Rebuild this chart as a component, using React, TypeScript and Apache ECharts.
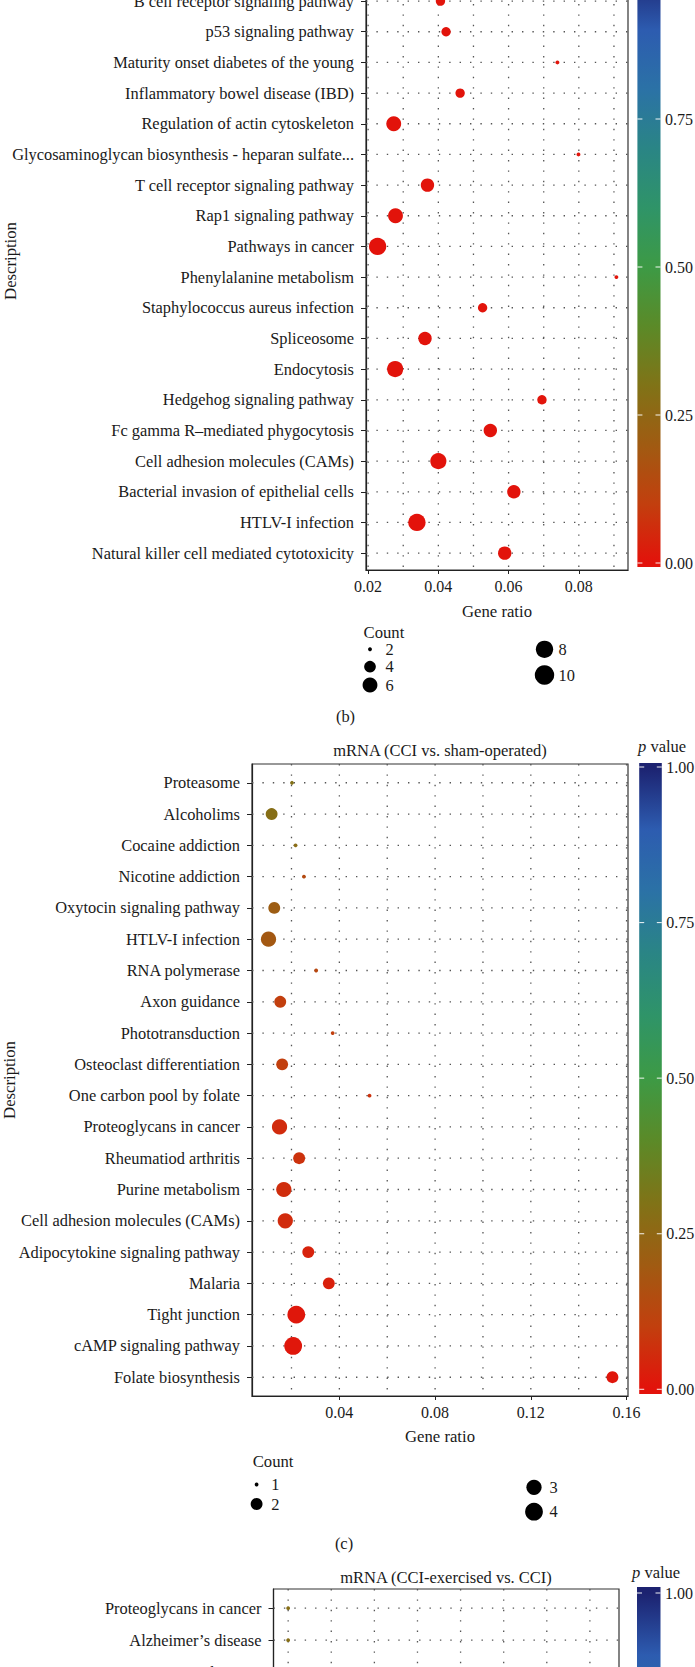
import React, { useEffect, useRef } from "react";
import * as echarts from "echarts";

const OFF = 60;
const EXTRA = 700;
const FONT = '"Liberation Serif", "DejaVu Serif", serif';

// ---------- Panel (b) ----------
const B_PATHWAYS = [
  "B cell receptor signaling pathway",
  "p53 signaling pathway",
  "Maturity onset diabetes of the young",
  "Inflammatory bowel disease (IBD)",
  "Regulation of actin cytoskeleton",
  "Glycosaminoglycan biosynthesis - heparan sulfate...",
  "T cell receptor signaling pathway",
  "Rap1 signaling pathway",
  "Pathways in cancer",
  "Phenylalanine metabolism",
  "Staphylococcus aureus infection",
  "Spliceosome",
  "Endocytosis",
  "Hedgehog signaling pathway",
  "Fc gamma R–mediated phygocytosis",
  "Cell adhesion molecules (CAMs)",
  "Bacterial invasion of epithelial cells",
  "HTLV-I infection",
  "Natural killer cell mediated cytotoxicity",
];
const B_RATIO = [
  0.0406, 0.0422, 0.0739, 0.0462, 0.0273, 0.0799, 0.0369, 0.0278, 0.0227, 0.0907,
  0.0526, 0.0362, 0.0277, 0.0695, 0.0548, 0.04, 0.0615, 0.0339, 0.0589,
];
const B_COUNT = [3, 3, 2, 3, 6, 2, 5, 6, 8, 2, 3, 5, 7, 3, 5, 7, 5, 8, 5];
const B_PVALUE = [
  0.004, 0.003, 0.006, 0.004, 0.002, 0.005, 0.003, 0.002, 0.001, 0.006,
  0.004, 0.003, 0.002, 0.004, 0.003, 0.002, 0.003, 0.001, 0.003,
];
const B_XTICKS = [0.02, 0.04, 0.06, 0.08];
const B_XGRID = [0.02, 0.03, 0.04, 0.05, 0.06, 0.07, 0.08, 0.09];
const B_LEGEND_COUNTS = [2, 4, 6, 8, 10];

// ---------- Panel (c) ----------
const C_TITLE = "mRNA (CCI vs. sham-operated)";
const C_PATHWAYS = [
  "Proteasome",
  "Alcoholims",
  "Cocaine addiction",
  "Nicotine addiction",
  "Oxytocin signaling pathway",
  "HTLV-I infection",
  "RNA polymerase",
  "Axon guidance",
  "Phototransduction",
  "Osteoclast differentiation",
  "One carbon pool by folate",
  "Proteoglycans in cancer",
  "Rheumatiod arthritis",
  "Purine metabolism",
  "Cell adhesion molecules (CAMs)",
  "Adipocytokine signaling pathway",
  "Malaria",
  "Tight junction",
  "cAMP signaling pathway",
  "Folate biosynthesis",
];
const C_RATIO = [
  0.0202, 0.0117, 0.0217, 0.0252, 0.0128, 0.0104, 0.0303, 0.0153, 0.0372, 0.0161,
  0.0526, 0.015, 0.0232, 0.0168, 0.0174, 0.027, 0.0356, 0.022, 0.0207, 0.1541,
];
const C_COUNT = [1, 2, 1, 1, 2, 3, 1, 2, 1, 2, 1, 3, 2, 3, 3, 2, 2, 4, 4, 2];
const C_PVALUE = [
  0.29, 0.28, 0.27, 0.14, 0.21, 0.19, 0.13, 0.1, 0.1, 0.1,
  0.07, 0.055, 0.07, 0.06, 0.055, 0.035, 0.03, 0.012, 0.01, 0.008,
];
const C_XTICKS = [0.04, 0.08, 0.12, 0.16];
const C_XGRID = [0.02, 0.04, 0.06, 0.08, 0.1, 0.12, 0.14, 0.16];
const C_LEGEND_COUNTS = [1, 2, 3, 4];

// ---------- Panel (d) ----------
const D_TITLE = "mRNA (CCI-exercised vs. CCI)";
const D_PATHWAYS = ["Proteoglycans in cancer", "Alzheimer’s disease", "Ribosome"];
const D_RATIO = [0.02, 0.02];
const D_COUNT = [1, 1];
const D_PVALUE = [0.28, 0.28];
const D_XGRID = [0.02, 0.04, 0.06, 0.08, 0.1, 0.12, 0.14, 0.16];

// ---------- colour scale ----------
const PALETTE = [
  "#e3120b", "#c23f0e", "#a05b12", "#807317", "#5b8a28", "#3d9a45",
  "#2f9468", "#2a8585", "#2b72a6", "#2d5cb0", "#1c2270",
];
const CB_TICKS = [0, 0.25, 0.5, 0.75, 1];

const sizeB = (c: number) => 0.8 + 3.1 * (1 + 5 * Math.sqrt((c - 2) / 8));
const sizeC = (c: number) => 1 + 2.8 * (1 + 5 * Math.sqrt((c - 1) / 3));

const TXT = "#1a1a1a";

function buildOption() {
  const grids = [
    { left: 366, top: -48 + OFF, width: 262, height: 618 },
    { left: 252, top: 764 + OFF, width: 376, height: 632 },
    { left: 273.5, top: 1589 + OFF, width: 345.5, height: 646 },
  ].map((g) => ({ ...g, show: true, borderColor: "#333", borderWidth: 1.2, backgroundColor: "transparent" }));

  const xAxis = (gi: number, min: number, max: number, ticks: number[], show: boolean) => ({
    type: "value",
    gridIndex: gi,
    min,
    max,
    axisLine: { show: true, onZero: false, lineStyle: { color: "#222", width: 1.2 } },
    axisTick: { show, customValues: ticks, length: 4, lineStyle: { color: "#222" } },
    axisLabel: {
      show,
      customValues: ticks,
      formatter: (v: number) => v.toFixed(2),
      margin: 8,
      fontSize: 16,
      fontFamily: FONT,
      color: TXT,
    },
    splitLine: { show: false },
  });
  const yAxis = (gi: number, min: number, max: number, cats: string[]) => {
    const idx = cats.map((_, i) => i);
    return {
      type: "value",
      gridIndex: gi,
      inverse: true,
      min,
      max,
      axisLine: { show: true, onZero: false, lineStyle: { color: "#222", width: 1.2 } },
      axisTick: { show: true, customValues: idx, length: 5, lineStyle: { color: "#222" } },
      axisLabel: {
        show: true,
        customValues: idx,
        formatter: (v: number) => cats[Math.round(v)] ?? "",
        margin: 12,
        fontSize: 16.4,
        fontFamily: FONT,
        color: TXT,
      },
      splitLine: { show: false },
    };
  };

  const dotted = { stroke: "#555", lineWidth: 1.3, lineDash: [1.4, 9] };
  const vGrid = (gi: number, vals: number[]) => ({
    type: "custom",
    xAxisIndex: gi,
    yAxisIndex: gi,
    silent: true,
    z: 1,
    data: vals.map((v) => [v, 0]),
    renderItem: (params: any, api: any) => {
      const x = api.coord([api.value(0), 0])[0];
      const cs = params.coordSys;
      return { type: "line", shape: { x1: x, y1: cs.y, x2: x, y2: cs.y + cs.height }, style: dotted };
    },
  });
  const hGrid = (gi: number, n: number, xmin: number) => ({
    type: "custom",
    xAxisIndex: gi,
    yAxisIndex: gi,
    silent: true,
    z: 1,
    data: Array.from({ length: n }, (_, i) => [xmin, i]),
    renderItem: (params: any, api: any) => {
      const y = api.coord([api.value(0), api.value(1)])[1];
      const cs = params.coordSys;
      return { type: "line", shape: { x1: cs.x, y1: y, x2: cs.x + cs.width, y2: y }, style: dotted };
    },
  });
  const scatter = (gi: number, ratio: number[], count: number[], pv: number[], sz: (c: number) => number) => ({
    type: "scatter",
    xAxisIndex: gi,
    yAxisIndex: gi,
    z: 3,
    symbol: "circle",
    symbolSize: (val: number[]) => sz(val[3]),
    itemStyle: { opacity: 1 },
    data: ratio.map((r, i) => [r, i, pv[i], count[i]]),
  });

  const bMin = 0.0194, bMax = 0.094;
  const cMin = 0.0035, cMax = 0.1606;
  const dMin = 0.0132, dMax = 0.1735;

  const series = [
    vGrid(0, B_XGRID),
    hGrid(0, B_PATHWAYS.length, bMin),
    vGrid(1, C_XGRID),
    hGrid(1, C_PATHWAYS.length, cMin),
    vGrid(2, D_XGRID),
    hGrid(2, D_PATHWAYS.length, dMin),
    scatter(0, B_RATIO, B_COUNT, B_PVALUE, sizeB),
    scatter(1, C_RATIO, C_COUNT, C_PVALUE, sizeC),
    scatter(2, D_RATIO, D_COUNT, D_PVALUE, sizeC),
  ];

  // ---------- graphic: colour bars, legends, titles ----------
  const g: any[] = [];
  const text = (t: string, x: number, y: number, opts: any = {}) =>
    g.push({
      type: "text",
      x,
      y: y + OFF,
      rotation: opts.rotation || 0,
      silent: true,
      style: {
        text: t,
        fontFamily: FONT,
        fontSize: opts.fontSize || 16.5,
        fill: TXT,
        align: opts.align || "left",
        verticalAlign: "middle",
        rich: opts.rich,
      },
    });

  const colorbar = (x: number, w: number, top: number, bottom: number, t1: number, t0: number, minVisible: number) => {
    const H = bottom - top;
    const stops = PALETTE.map((c, i) => {
      const p = i / (PALETTE.length - 1);
      const y = t0 - p * (t0 - t1);
      return { offset: Math.min(1, Math.max(0, (y - top) / H)), color: c };
    }).reverse();
    stops.unshift({ offset: 0, color: PALETTE[PALETTE.length - 1] });
    stops.push({ offset: 1, color: PALETTE[0] });
    g.push({
      type: "rect",
      silent: true,
      shape: { x, y: top + OFF, width: w, height: H },
      style: { fill: new echarts.graphic.LinearGradient(0, 0, 0, 1, stops) },
    });
    CB_TICKS.forEach((p) => {
      const y = t0 - p * (t0 - t1);
      if (y < minVisible || y > 1667) return;
      g.push({
        type: "line",
        silent: true,
        shape: { x1: x, y1: y + OFF, x2: x + 5, y2: y + OFF },
        style: { stroke: "#ffffff", lineWidth: 1.1, opacity: 0.85 },
      });
      g.push({
        type: "line",
        silent: true,
        shape: { x1: x + w - 5, y1: y + OFF, x2: x + w, y2: y + OFF },
        style: { stroke: "#ffffff", lineWidth: 1.1, opacity: 0.85 },
      });
      text(p.toFixed(2), x + w + 4.5, y, { fontSize: 16 });
    });
  };
  colorbar(637.4, 23.1, -33, 567, -29, 563, -10);
  colorbar(639.2, 22.6, 763, 1394, 767, 1389.3, 0);
  colorbar(637, 23.5, 1587, 2218, 1593, 2215, 0);

  const legendDot = (cx: number, cy: number, d: number, label: number, tx: number) => {
    g.push({
      type: "circle",
      silent: true,
      shape: { cx, cy: cy + OFF, r: d / 2 },
      style: { fill: "#000" },
    });
    text(String(label), tx, cy, { fontSize: 16.4 });
  };

  // panel (b) texts
  text("Gene ratio", 497, 611.7, { align: "center", fontSize: 16.7 });
  text("Description", 10, 261, { align: "center", fontSize: 16.7, rotation: Math.PI / 2 });
  text("Count", 363.5, 632.7, { fontSize: 16.7 });
  const bLegY = [649.3, 666.7, 685, 649.3, 675];
  const bLegX = [370, 370, 370, 544.5, 544.5];
  const bLegTx = [385.6, 385.6, 385.6, 558.5, 558.5];
  B_LEGEND_COUNTS.forEach((c, i) => legendDot(bLegX[i], bLegY[i], sizeB(c), c, bLegTx[i]));
  text("(b)", 345.5, 716.7, { align: "center", fontSize: 16.4 });

  // panel (c) texts
  text(C_TITLE, 440, 750, { align: "center" });
  text("{i|p} value", 638, 746, { rich: { i: { fontStyle: "italic", fontFamily: FONT, fontSize: 16.5 } } });
  text("Gene ratio", 440, 1436, { align: "center", fontSize: 16.7 });
  text("Description", 9, 1080, { align: "center", fontSize: 16.7, rotation: Math.PI / 2 });
  text("Count", 252.7, 1461.7, { fontSize: 16.7 });
  const cLegY = [1484.5, 1504, 1487.3, 1511.7];
  const cLegX = [256.6, 256.6, 534, 534];
  const cLegTx = [271.3, 271.3, 549.6, 549.6];
  C_LEGEND_COUNTS.forEach((c, i) => legendDot(cLegX[i], cLegY[i], sizeC(c), c, cLegTx[i]));
  text("(c)", 344, 1543, { align: "center", fontSize: 16.4 });

  // panel (d) texts
  text(D_TITLE, 446, 1577, { align: "center" });
  text("{i|p} value", 632, 1572, { rich: { i: { fontStyle: "italic", fontFamily: FONT, fontSize: 16.5 } } });

  return {
    animation: false,
    backgroundColor: "#ffffff",
    textStyle: { fontFamily: FONT },
    grid: grids,
    xAxis: [
      xAxis(0, bMin, bMax, B_XTICKS, true),
      xAxis(1, cMin, cMax, C_XTICKS, true),
      xAxis(2, dMin, dMax, [], false),
    ],
    yAxis: [
      yAxis(0, -1.6, 18.55, B_PATHWAYS),
      yAxis(1, -0.6, 19.6, C_PATHWAYS),
      yAxis(2, -0.6, 19.6, D_PATHWAYS),
    ],
    visualMap: [
      {
        type: "continuous",
        show: false,
        min: 0,
        max: 1,
        dimension: 2,
        seriesIndex: [6, 7, 8],
        inRange: { color: PALETTE },
      },
    ],
    series,
    graphic: { elements: g },
  };
}

export default function App() {
  const ref = useRef<HTMLDivElement>(null);
  useEffect(() => {
    if (!ref.current) return;
    const chart = echarts.init(ref.current, null, { renderer: "svg" });
    chart.setOption(buildOption() as any);
    return () => chart.dispose();
  }, []);
  return (
    <div
      style={{ position: "absolute", left: 0, top: 0, width: 695, height: 1667, overflow: "hidden" }}
    >
      <div
        ref={ref}
        style={{ position: "absolute", left: 0, top: -OFF, width: 695, height: 1667 + OFF + EXTRA }}
      />
    </div>
  );
}
